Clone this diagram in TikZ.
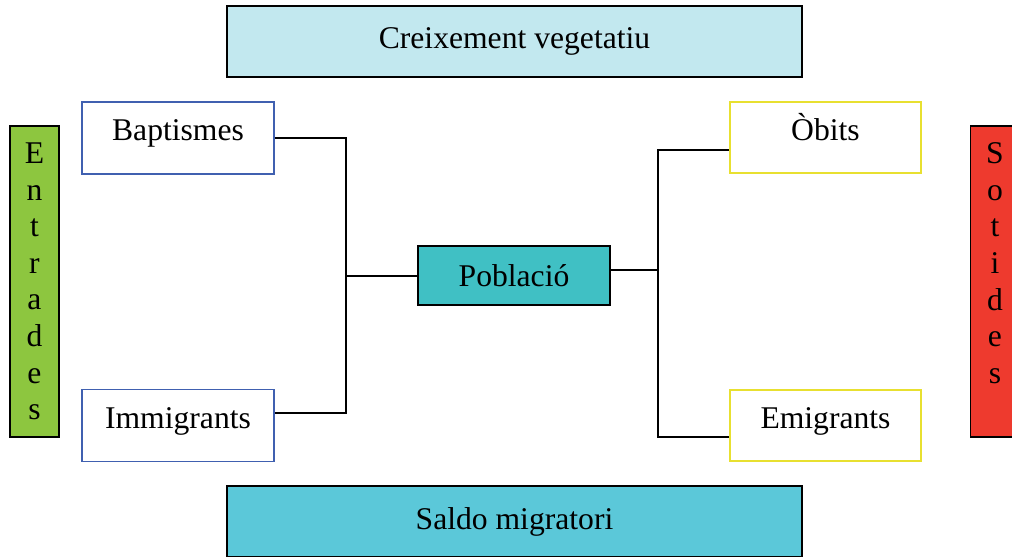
\documentclass[tikz,border=0pt]{standalone}
\usepackage{fontspec}
\setmainfont{Liberation Serif}
\usepackage{xcolor}
\usetikzlibrary{positioning,calc}
\definecolor{PaleCyan}{HTML}{C2E8EF}
\definecolor{MidCyan}{HTML}{5BC8D9}
\definecolor{TealBox}{HTML}{40C0C4}
\definecolor{LeafGreen}{HTML}{8DC63F}
\definecolor{SignalRed}{HTML}{EE3A2E}
\definecolor{InBlue}{HTML}{4060B0}
\definecolor{OutYellow}{HTML}{E8E030}

\begin{document}
\begin{tikzpicture}[
    x=0.02cm,
    y=-0.02cm,
    font=\fontsize{18}{20.8}\selectfont,
    box/.style={
        draw,
        line width=0.9pt,
        align=center,
        inner sep=0pt
    },
    inbox/.style={
        box,
        draw=InBlue,
        fill=white,
        text height=0.6em,
        text depth=0.3em,
        minimum width=3.84cm,
        minimum height=1.44cm
    },
    outbox/.style={
        box,
        draw=OutYellow,
        fill=white,
        text height=0.6em,
        text depth=0.3em,
        minimum width=3.82cm,
        minimum height=1.42cm
    },
    sidebox/.style={
        box,
        draw=black,
        minimum width=0.98cm,
        minimum height=6.22cm
    },
    link/.style={
        draw=black,
        line width=0.9pt
    }
]

% =====================================================
% FRAME
% =====================================================
\useasboundingbox (0,0) rectangle (1012,557);
\clip (0,0) rectangle (1012,557);

% =====================================================
% TOP AND BOTTOM BANDS
% =====================================================
\node[
    box,
    fill=PaleCyan,
    minimum width=11.5cm,
    minimum height=1.42cm
]
(creix)
at (514.5,41.5)
{Creixement vegetatiu};

\node[
    box,
    fill=MidCyan,
    minimum width=11.5cm,
    minimum height=1.42cm
]
(saldo)
at (514.5,521.5)
{Saldo migratori};

% =====================================================
% SIDE BARS
% =====================================================
\node[
    sidebox,
    fill=LeafGreen
]
(entr)
at (34.5,281.5)
{E\\n\\t\\r\\a\\d\\e\\s};

% letters start at the same height as on the left
\node[
    sidebox,
    fill=SignalRed
]
(sot)
at (995,281.5)
{S\\o\\t\\i\\d\\e\\s\\\phantom{s}};

% =====================================================
% INPUTS AND OUTPUTS
% =====================================================
\node[inbox] (bapt) at (178,138) {Baptismes};
\node[inbox] (immig) at (178,425.5) {Immigrants};

\node[outbox] (obits) at (825.5,137.5) {Òbits};
\node[outbox] (emig) at (825.5,425.5) {Emigrants};

% =====================================================
% CENTRE
% =====================================================
\node[
    box,
    fill=TealBox,
    minimum width=3.84cm,
    minimum height=1.18cm
]
(pobl)
at (514,275.5)
{Població};

% =====================================================
% CONNECTORS
% =====================================================
\coordinate (ltop) at (346,138);
\coordinate (lmid) at (346,276);
\coordinate (lbot) at (346,413);

\coordinate (rtop) at (658,150);
\coordinate (rmid) at (658,270);
\coordinate (rbot) at (658,437);

% left fork
\draw[link]
(bapt.east) -- (ltop) -- (lbot) -- (immig.east |- lbot);
\draw[link]
(lmid) -- (pobl.west |- lmid);

% right fork
\draw[link]
(pobl.east |- rmid) -- (rmid);
\draw[link]
(obits.west |- rtop) -- (rtop) -- (rbot) -- (emig.west |- rbot);

\end{tikzpicture}
\end{document}
